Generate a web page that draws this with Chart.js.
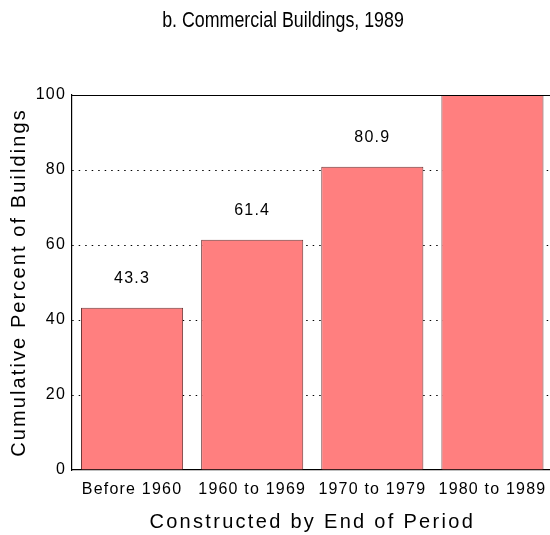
<!DOCTYPE html>
<html>
<head>
<meta charset="utf-8">
<script src="https://cdn.jsdelivr.net/npm/chart.js@4.4.0/dist/chart.umd.min.js"></script>
<style>
  html, body { margin: 0; padding: 0; background: #ffffff; }
  #wrap { width: 550px; height: 535px; position: relative; }
</style>
</head>
<body>
<div id="wrap"><canvas id="c" width="550" height="535"></canvas></div>
<script>
const chartTitle = "b. Commercial Buildings, 1989";
const categories = ["Before 1960", "1960 to 1969", "1970 to 1979", "1980 to 1989"];
const cumulativePercent = [43.3, 61.4, 80.9, 100];
const valueLabels = ["43.3", "61.4", "80.9", "100.0"];
const yTicks = [0, 20, 40, 60, 80, 100];
const xAxisTitle = "Constructed by End of Period";
const yAxisTitle = "Cumulative Percent of Buildings";

const BASE_FONT = "'Liberation Sans', Arial, Helvetica, sans-serif";
const TEXT_SPACING = '1.2px';

// Narrow title drawn as canvas text
const titlePlugin = {
  id: 'narrowTitle',
  afterDraw(chart) {
    const ctx = chart.ctx;
    ctx.save();
    ctx.letterSpacing = '0px';
    ctx.font = "22px " + BASE_FONT;
    ctx.fillStyle = '#000';
    ctx.textAlign = 'center';
    ctx.textBaseline = 'middle';
    ctx.translate(283, 20.5);
    ctx.scale(0.81, 1);
    ctx.fillText(chartTitle, 0, 0);
    ctx.restore();
  }
};

const valueLabelPlugin = {
  id: 'valueLabels',
  afterDatasetsDraw(chart) {
    const ctx = chart.ctx;
    const area = chart.chartArea;
    const meta = chart.getDatasetMeta(0);
    ctx.save();
    ctx.beginPath();
    ctx.rect(area.left, area.top, area.right - area.left, area.bottom - area.top);
    ctx.clip();
    ctx.letterSpacing = TEXT_SPACING;
    ctx.font = "16px " + BASE_FONT;
    ctx.fillStyle = '#000';
    ctx.textAlign = 'center';
    ctx.textBaseline = 'middle';
    meta.data.forEach((bar, i) => {
      ctx.fillText(valueLabels[i], bar.x, bar.y - 29);
    });
    ctx.restore();
  }
};

const topFramePlugin = {
  id: 'topFrame',
  afterDraw(chart) {
    const ctx = chart.ctx;
    const y = chart.scales.y.getPixelForValue(100);
    ctx.save();
    ctx.strokeStyle = '#000';
    ctx.lineWidth = 1.2;
    ctx.beginPath();
    ctx.moveTo(chart.chartArea.left, Math.round(y) + 0.5);
    ctx.lineTo(chart.width, Math.round(y) + 0.5);
    ctx.stroke();
    ctx.restore();
  }
};

function wrapTitle(scale, spacing) {
  if (scale._wrappedTitle) return;
  const orig = scale.drawTitle;
  scale.drawTitle = function () {
    const ctx = this.ctx;
    ctx.save();
    ctx.letterSpacing = spacing;
    orig.apply(this, arguments);
    ctx.restore();
  };
  scale._wrappedTitle = true;
}

const layoutPlugin = {
  id: 'layoutTweak',
  beforeInit(chart) { chart.ctx.letterSpacing = TEXT_SPACING; },
  beforeUpdate(chart) { chart.ctx.letterSpacing = TEXT_SPACING; },
  beforeDraw(chart) { chart.ctx.letterSpacing = TEXT_SPACING; },
  afterLayout(chart) {
    // the plot area runs slightly past the right edge of the canvas
    const ext = 2.5;
    const x = chart.scales.x;
    x.right += ext;
    x.width += ext;
    x.configure();
    chart.chartArea.right += ext;
    chart.chartArea.width += ext;
    wrapTitle(chart.scales.y, '2.1px');
    wrapTitle(chart.scales.x, '2.3px');
  }
};

new Chart(document.getElementById('c'), {
  type: 'bar',
  data: {
    labels: categories,
    datasets: [{
      data: cumulativePercent,
      backgroundColor: '#ff7f7f',
      borderColor: '#6e3838',
      borderWidth: 1,
      borderSkipped: 'start',
      barPercentage: 0.85,
      categoryPercentage: 1.0
    }]
  },
  options: {
    responsive: false,
    animation: false,
    devicePixelRatio: 1,
    layout: { padding: { left: 0, right: 0, top: 95, bottom: 0 } },
    plugins: {
      legend: { display: false },
      tooltip: { enabled: false },
      title: { display: false }
    },
    scales: {
      x: {
        grid: { display: false },
        border: { display: true, color: '#000', width: 1.2 },
        ticks: { color: '#000', font: { family: BASE_FONT, size: 16 }, padding: 2, maxRotation: 0 },
        title: { display: true, text: xAxisTitle, color: '#000', font: { family: BASE_FONT, size: 20 }, padding: { top: 4, bottom: 1 } },
        afterFit(scale) { scale.height = 65; }
      },
      y: {
        min: 0,
        max: 100,
        afterBuildTicks(scale) { scale.ticks = yTicks.map(v => ({ value: v })); },
        grid: {
          drawTicks: false,
          color: (c) => (c.tick && (c.tick.value === 0 || c.tick.value === 100)) ? 'rgba(0,0,0,0)' : '#000',
          lineWidth: 1
        },
        border: { display: true, color: '#000', width: 1.2, dash: [1.5, 5] },
        ticks: { color: '#000', font: { family: BASE_FONT, size: 16 }, padding: 6 },
        title: { display: true, text: yAxisTitle, color: '#000', font: { family: BASE_FONT, size: 20 }, padding: { top: 7, bottom: 0 } },
        afterFit(scale) { scale.width = 72; }
      }
    }
  },
  plugins: [layoutPlugin, valueLabelPlugin, topFramePlugin, titlePlugin]
});
</script>
</body>
</html>
